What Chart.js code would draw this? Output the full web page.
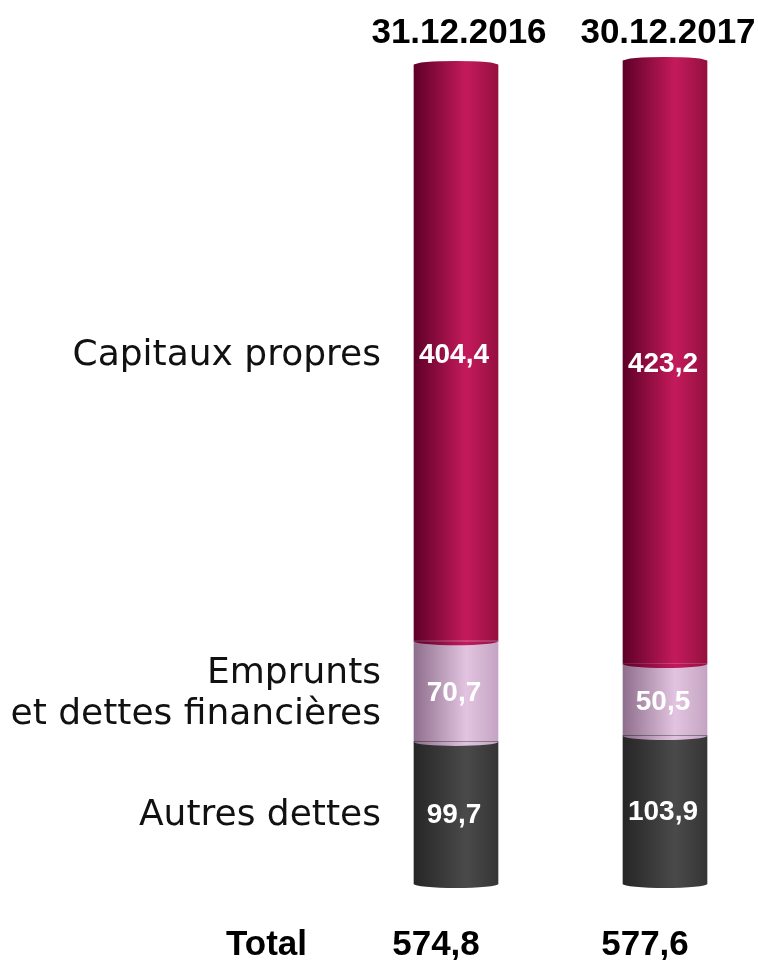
<!DOCTYPE html>
<html>
<head>
<meta charset="utf-8">
<script src="https://cdn.jsdelivr.net/npm/chart.js@4/dist/chart.umd.min.js"></script>
<style>
  html, body { margin: 0; padding: 0; background: #fff; }
  #wrap { width: 758px; height: 960px; }
</style>
</head>
<body>
<div id="wrap"><canvas id="bilan" width="758" height="960"></canvas></div>
<script>
var periods = ['31.12.2016', '30.12.2017'];
var autresDettes = [99.7, 103.9];
var emprunts = [70.7, 50.5];
var capitauxPropres = [404.4, 423.2];
var totals = [574.8, 577.6];
var seriesNames = ['Autres dettes', ['Emprunts', 'et dettes financières'], 'Capitaux propres'];

var BAR_W = 84;

function fmt(v) {
  return v.toFixed(1).replace('.', ',');
}

// horizontal gradient so each bar looks like a cylinder
function cylinder(dark, light, edge) {
  return function (ctx) {
    var chart = ctx.chart;
    if (!chart.chartArea) {
      return light;
    }
    var x = chart.scales.x.getPixelForValue(ctx.dataIndex);
    var g = chart.ctx.createLinearGradient(x - BAR_W / 2, 0, x + BAR_W / 2, 0);
    g.addColorStop(0, dark);
    g.addColorStop(0.62, light);
    g.addColorStop(1, edge);
    return g;
  };
}

var cylinderCaps = {
  id: 'cylinderCaps',
  afterDatasetsDraw: function (chart) {
    var c = chart.ctx;
    var n = chart.data.datasets.length;
    chart.data.datasets.forEach(function (ds, di) {
      var meta = chart.getDatasetMeta(di);
      meta.data.forEach(function (el, i) {
        var fill = ds.backgroundColor({ chart: chart, dataIndex: i });
        c.save();
        c.fillStyle = fill;
        c.beginPath();
        c.ellipse(el.x, el.base, el.width / 2, 4, 0, 0, Math.PI);
        c.fill();
        if (di === n - 1) {
          c.beginPath();
          c.ellipse(el.x, el.y, el.width / 2, 4, 0, Math.PI, 2 * Math.PI);
          c.fill();
        }
        c.restore();
      });
    });
  },
};

var textLayer = {
  id: 'textLayer',
  afterDraw: function (chart) {
    var c = chart.ctx;
    var metas = chart.data.datasets.map(function (d, i) { return chart.getDatasetMeta(i); });
    c.save();

    // values inside the segments
    c.fillStyle = '#ffffff';
    c.font = 'bold 28px "Liberation Sans", Arial, sans-serif';
    c.textAlign = 'center';
    c.textBaseline = 'middle';
    chart.data.datasets.forEach(function (ds, di) {
      metas[di].data.forEach(function (el, i) {
        c.fillText(fmt(ds.data[i]), el.x - 2, (el.y + el.base) / 2 + 2);
      });
    });

    // series names, aligned on the first bar
    c.fillStyle = '#111111';
    c.font = '36px "DejaVu Sans", sans-serif';
    c.textAlign = 'right';
    seriesNames.forEach(function (name, di) {
      var el = metas[di].data[0];
      var mid = (el.y + el.base) / 2 + 3;
      var lines = Array.isArray(name) ? name : [name];
      var lh = 41;
      lines.forEach(function (ln, k) {
        c.fillText(ln, 381, mid + (k - (lines.length - 1) / 2) * lh);
      });
    });

    // period headers
    c.font = 'bold 35px "Liberation Sans", Arial, sans-serif';
    c.textAlign = 'center';
    c.textBaseline = 'alphabetic';
    c.fillStyle = '#000000';
    periods.forEach(function (p, i) {
      var x = chart.scales.x.getPixelForValue(i);
      c.fillText(p, x + 3, 43);
    });

    // totals row
    c.textAlign = 'right';
    c.fillText('Total', 307, 955);
    c.textAlign = 'center';
    totals.forEach(function (t, i) {
      var x = chart.scales.x.getPixelForValue(i);
      c.fillText(fmt(t), x - 20, 955);
    });
    c.restore();
  },
};

new Chart(document.getElementById('bilan'), {
  type: 'bar',
  data: {
    labels: periods,
    datasets: [
      {
        label: 'Autres dettes',
        data: autresDettes,
        backgroundColor: cylinder('#262626', '#4a4a4a', '#353535'),
      },
      {
        label: 'Emprunts et dettes financières',
        data: emprunts,
        backgroundColor: cylinder('#8e6e8c', '#e2c4e0', '#c4a4c2'),
      },
      {
        label: 'Capitaux propres',
        data: capitauxPropres,
        backgroundColor: cylinder('#5e0028', '#c41a5c', '#95103f'),
      },
    ],
  },
  options: {
    responsive: false,
    animation: false,
    layout: { padding: { left: 456, right: 93, top: 29, bottom: 76 } },
    datasets: { bar: { barThickness: BAR_W, borderWidth: 0, clip: false } },
    plugins: {
      legend: { display: false },
      tooltip: { enabled: false },
    },
    scales: {
      x: { stacked: true, offset: false, display: false },
      y: { stacked: true, min: 0, max: 600, display: false },
    },
  },
  plugins: [cylinderCaps, textLayer],
});
</script>
</body>
</html>
